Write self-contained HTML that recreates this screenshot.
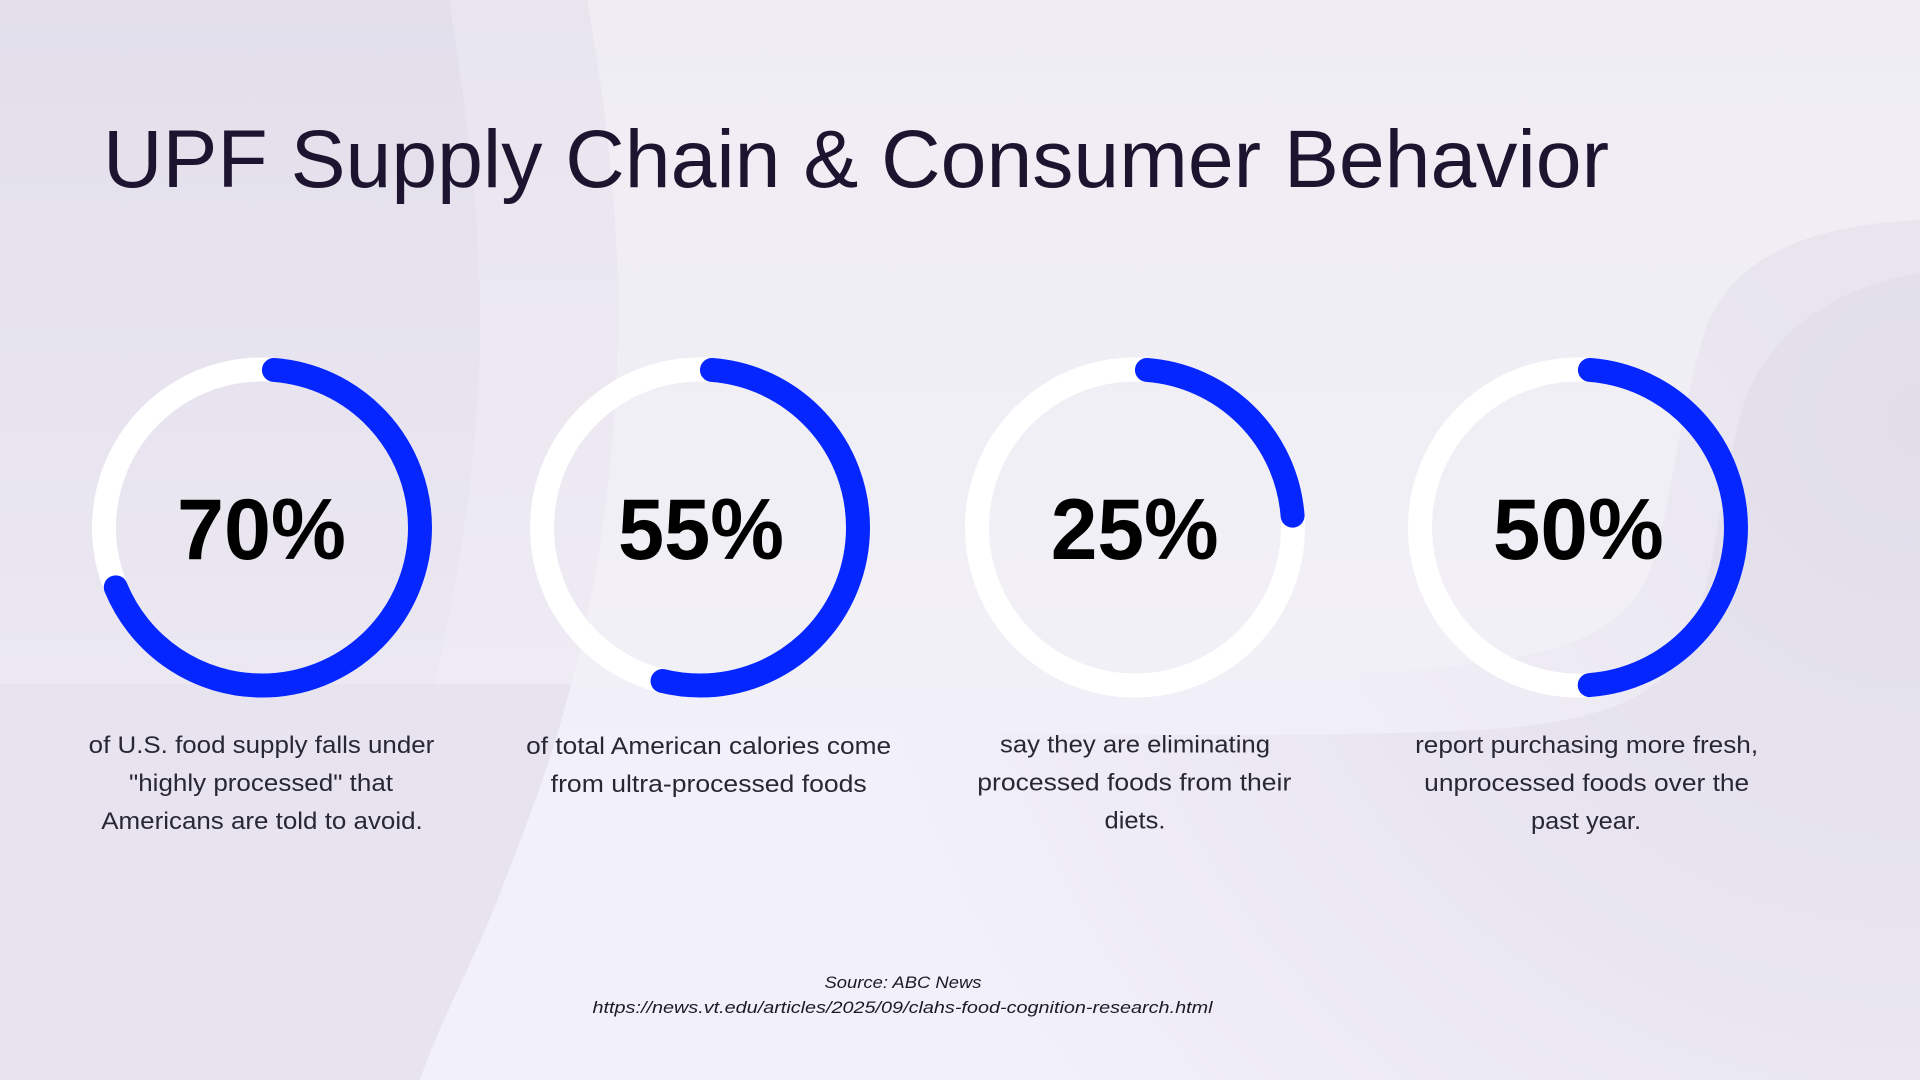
<!DOCTYPE html>
<html>
<head>
<meta charset="utf-8">
<style>
  html, body { margin: 0; padding: 0; width: 1920px; height: 1080px; overflow: hidden; background: #f0eef5; }
  svg { display: block; }
  .title { font-family: "Liberation Sans", sans-serif; font-size: 82px; fill: #1d1530; }
  .pct { font-family: "Liberation Sans", sans-serif; font-weight: bold; font-size: 86px; fill: #000000; }
  .desc { font-family: "Liberation Sans", sans-serif; font-size: 24.5px; fill: #2a2735; }
  .src { font-family: "Liberation Sans", sans-serif; font-style: italic; font-size: 17px; fill: #1c1a28; }
</style>
</head>
<body>
<svg width="1920" height="1080" viewBox="0 0 1920 1080" xmlns="http://www.w3.org/2000/svg">
  <defs>
    <linearGradient id="gBase" x1="0" y1="0" x2="1" y2="0">
      <stop offset="0" stop-color="#f2f0f8"/>
      <stop offset="0.5" stop-color="#f1eff7"/>
      <stop offset="1" stop-color="#ebe8f2"/>
    </linearGradient>
    <linearGradient id="gUpper" x1="0" y1="0" x2="0" y2="1">
      <stop offset="0" stop-color="#efedf3"/>
      <stop offset="1" stop-color="#f2f0f7"/>
    </linearGradient>
    <linearGradient id="gLeftB" x1="0" y1="0" x2="0" y2="1">
      <stop offset="0" stop-color="#e8e5ef"/>
      <stop offset="1" stop-color="#eeebf4"/>
    </linearGradient>
    <linearGradient id="gLeftA" x1="0" y1="0" x2="0" y2="1">
      <stop offset="0" stop-color="#e2dfeb"/>
      <stop offset="1" stop-color="#ebe8f2"/>
    </linearGradient>
    <linearGradient id="gR3" gradientUnits="userSpaceOnUse" x1="1800" y1="300" x2="1250" y2="720">
      <stop offset="0" stop-color="#e8e5ee"/>
      <stop offset="1" stop-color="#f1eff7"/>
    </linearGradient>
    <radialGradient id="gR4" gradientUnits="userSpaceOnUse" cx="1920" cy="420" r="1100">
      <stop offset="0" stop-color="#e1deea"/>
      <stop offset="0.5" stop-color="#e8e5f0"/>
      <stop offset="1" stop-color="#f2f0f8"/>
    </radialGradient>
  </defs>

  <!-- background -->
  <rect x="0" y="0" width="1920" height="1080" fill="url(#gBase)"/>
  <!-- right outer shape (extended, fades out to the left) -->
  <path d="M1920,220 C1800,225 1730,262 1705,330 C1680,410 1672,500 1652,565 C1630,625 1585,645 1500,660 C1380,678 1200,684 1050,684 L0,684 L0,1080 L1920,1080 Z" fill="url(#gR3)"/>
  <!-- right inner shape (extended) -->
  <path d="M1920,273 C1840,285 1770,330 1745,400 C1720,480 1715,580 1690,640 C1660,700 1600,722 1480,730 C1300,738 1100,735 900,732 L0,732 L0,1080 L1920,1080 Z" fill="url(#gR4)"/>
  <!-- left of boundary B, full height (lower tone) -->
  <path d="M0,0 L587,0 C605,100 620,220 618,330 C616,450 600,580 571,684 C550,770 520,840 505,880 C480,950 440,1020 420,1080 L0,1080 Z" fill="#e7e4f0"/>
  <!-- upper light region -->
  <path d="M587,0 L1920,0 L1920,220 C1800,225 1730,262 1705,330 C1680,410 1672,500 1652,565 C1630,625 1585,645 1500,660 C1380,678 1200,684 1050,684 L571,684 C600,580 616,450 618,330 C620,220 605,100 587,0 Z" fill="url(#gUpper)"/>
  <!-- left of B, above band -->
  <path d="M0,0 L587,0 C605,100 620,220 618,330 C616,450 600,580 571,684 L0,684 Z" fill="url(#gLeftB)"/>
  <!-- left of A, above band -->
  <path d="M0,0 L449,0 C465,100 478,200 480,306 C482,430 460,580 434,684 L0,684 Z" fill="url(#gLeftA)"/>

  <!-- title -->
  <text class="title" x="103" y="187" textLength="1506" lengthAdjust="spacingAndGlyphs">UPF Supply Chain &amp; Consumer Behavior</text>

  <!-- rings -->
  <g fill="none" stroke-width="24" stroke-linecap="round">
    <circle cx="262" cy="527.5" r="158" stroke="#ffffff"/>
    <circle cx="700" cy="527.5" r="158" stroke="#ffffff"/>
    <circle cx="1135" cy="527.5" r="158" stroke="#ffffff"/>
    <circle cx="1578" cy="527.5" r="158" stroke="#ffffff"/>

    <circle cx="262" cy="527.5" r="158" stroke="#0626ff" stroke-dasharray="670.9 2000" stroke-dashoffset="-12" transform="rotate(-90 262 527.5)"/>
    <circle cx="700" cy="527.5" r="158" stroke="#0626ff" stroke-dasharray="522.0 2000" stroke-dashoffset="-12" transform="rotate(-90 700 527.5)"/>
    <circle cx="1135" cy="527.5" r="158" stroke="#0626ff" stroke-dasharray="224.2 2000" stroke-dashoffset="-12" transform="rotate(-90 1135 527.5)"/>
    <circle cx="1578" cy="527.5" r="158" stroke="#0626ff" stroke-dasharray="472.4 2000" stroke-dashoffset="-12" transform="rotate(-90 1578 527.5)"/>
  </g>

  <!-- percentages -->
  <g text-anchor="middle">
    <text class="pct" x="261.5" y="559" textLength="169" lengthAdjust="spacingAndGlyphs">70%</text>
    <text class="pct" x="701" y="559" textLength="166" lengthAdjust="spacingAndGlyphs">55%</text>
    <text class="pct" x="1134.7" y="559" textLength="168" lengthAdjust="spacingAndGlyphs">25%</text>
    <text class="pct" x="1578.4" y="559" textLength="171" lengthAdjust="spacingAndGlyphs">50%</text>
  </g>

  <!-- descriptions -->
  <g text-anchor="middle">
    <text class="desc" x="261.5" y="753" textLength="345.6" lengthAdjust="spacingAndGlyphs">of U.S. food supply falls under</text>
    <text class="desc" x="261" y="791" textLength="264" lengthAdjust="spacingAndGlyphs">"highly processed" that</text>
    <text class="desc" x="262" y="829" textLength="321.5" lengthAdjust="spacingAndGlyphs">Americans are told to avoid.</text>

    <text class="desc" x="708.6" y="754" textLength="365" lengthAdjust="spacingAndGlyphs">of total American calories come</text>
    <text class="desc" x="708.7" y="792" textLength="316" lengthAdjust="spacingAndGlyphs">from ultra-processed foods</text>

    <text class="desc" x="1135" y="752.5" textLength="270" lengthAdjust="spacingAndGlyphs">say they are eliminating</text>
    <text class="desc" x="1134.3" y="790.5" textLength="314" lengthAdjust="spacingAndGlyphs">processed foods from their</text>
    <text class="desc" x="1135" y="828.5" textLength="61" lengthAdjust="spacingAndGlyphs">diets.</text>

    <text class="desc" x="1586.6" y="753" textLength="343" lengthAdjust="spacingAndGlyphs">report purchasing more fresh,</text>
    <text class="desc" x="1586.7" y="791" textLength="325" lengthAdjust="spacingAndGlyphs">unprocessed foods over the</text>
    <text class="desc" x="1586" y="829" textLength="110" lengthAdjust="spacingAndGlyphs">past year.</text>
  </g>

  <!-- source -->
  <g text-anchor="middle">
    <text class="src" x="903" y="988" textLength="157" lengthAdjust="spacingAndGlyphs">Source: ABC News</text>
    <text class="src" x="902.5" y="1013" textLength="620" lengthAdjust="spacingAndGlyphs">https://news.vt.edu/articles/2025/09/clahs-food-cognition-research.html</text>
  </g>
</svg>
</body>
</html>
